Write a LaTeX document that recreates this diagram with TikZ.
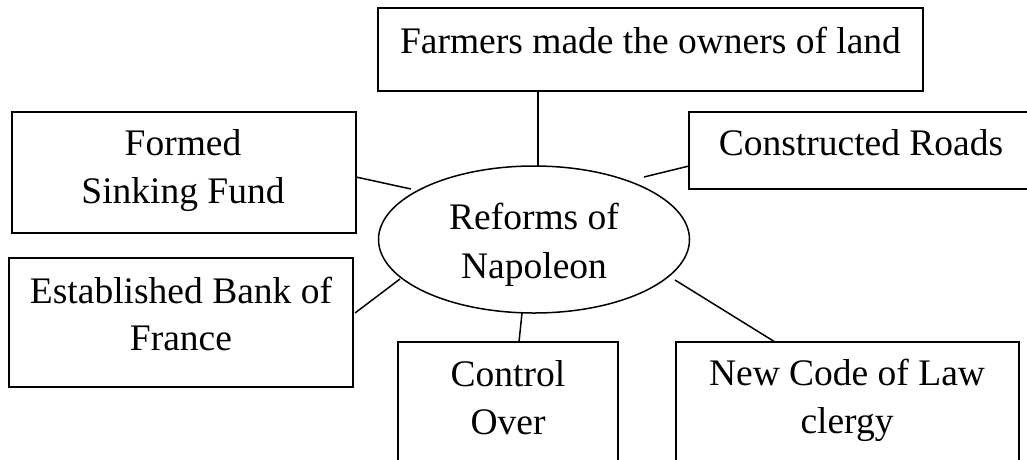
\documentclass[tikz,border=0pt]{standalone}
\usepackage{fontspec}
\setmainfont{Liberation Serif}
\usetikzlibrary{shapes.geometric}
\begin{document}
\begin{tikzpicture}[x=1pt,y=-1pt,
  box/.style={draw, line width=2pt, inner sep=0pt, outer sep=0pt},
  hub/.style={draw, ellipse, line width=1.5pt, inner sep=0pt, outer sep=0pt,
    minimum width=311pt, minimum height=147pt},
  conn/.style={draw, line width=1.5pt},
  lbl/.style={anchor=base, inner sep=0pt, font=\fontsize{37.5}{48}\selectfont}]
\useasboundingbox (0,0) rectangle (1027,459);

% central ellipse
\node[hub] (ell) at (534,239.5) {};
\node[lbl] (ell1) at (534,229) {Reforms of};
\node[lbl] (ell2) at (534,278) {Napoleon};

% surrounding boxes
\node[box, minimum width=545pt, minimum height=83pt] (farm) at (650.5,49.5) {};
\node[lbl] (farm1) at (650.5,53) {Farmers made the owners of land};

\node[box, minimum width=346pt, minimum height=77pt] (roads) at (862,150.5) {};
\node[lbl] (roads1) at (861,155) {Constructed Roads};

\node[box, minimum width=344pt, minimum height=121pt] (sink) at (184,172.5) {};
\node[lbl] (sink1) at (183,155) {Formed};
\node[lbl] (sink2) at (183,203) {Sinking Fund};

\node[box, minimum width=344pt, minimum height=129pt] (bank) at (181,322.5) {};
\node[lbl] (bank1) at (181,303) {Established Bank of};
\node[lbl] (bank2) at (181,350) {France};

\node[box, minimum width=220pt, minimum height=128pt] (ctrl) at (508,406) {};
\node[lbl] (ctrl1) at (508,386) {Control};
\node[lbl] (ctrl2) at (508,434) {Over};

\node[box, minimum width=343pt, minimum height=128pt] (code) at (847.5,406) {};
\node[lbl] (code1) at (847,385) {New Code of Law};
\node[lbl] (code2) at (847,433) {clergy};

% connectors
\draw[conn] ([xshift=-112.5pt]farm.south) -- ([xshift=4pt]ell.north);
\draw[conn] ([yshift=-15.5pt]roads.west) -- ([shift={(110pt,62.5pt)}]ell.center);
\draw[conn] ([yshift=-4.5pt]sink.east) -- ([shift={(-123pt,50.5pt)}]ell.center);
\draw[conn] ([shift={(2pt,9.5pt)}]bank.east) -- ([shift={(-134pt,-39.5pt)}]ell.center);
\draw[conn] ([xshift=-12pt]ell.south) -- ([xshift=11pt]ctrl.north);
\draw[conn] ([shift={(141pt,-40.5pt)}]ell.center) -- ([xshift=-72.5pt]code.north);
\end{tikzpicture}
\end{document}
